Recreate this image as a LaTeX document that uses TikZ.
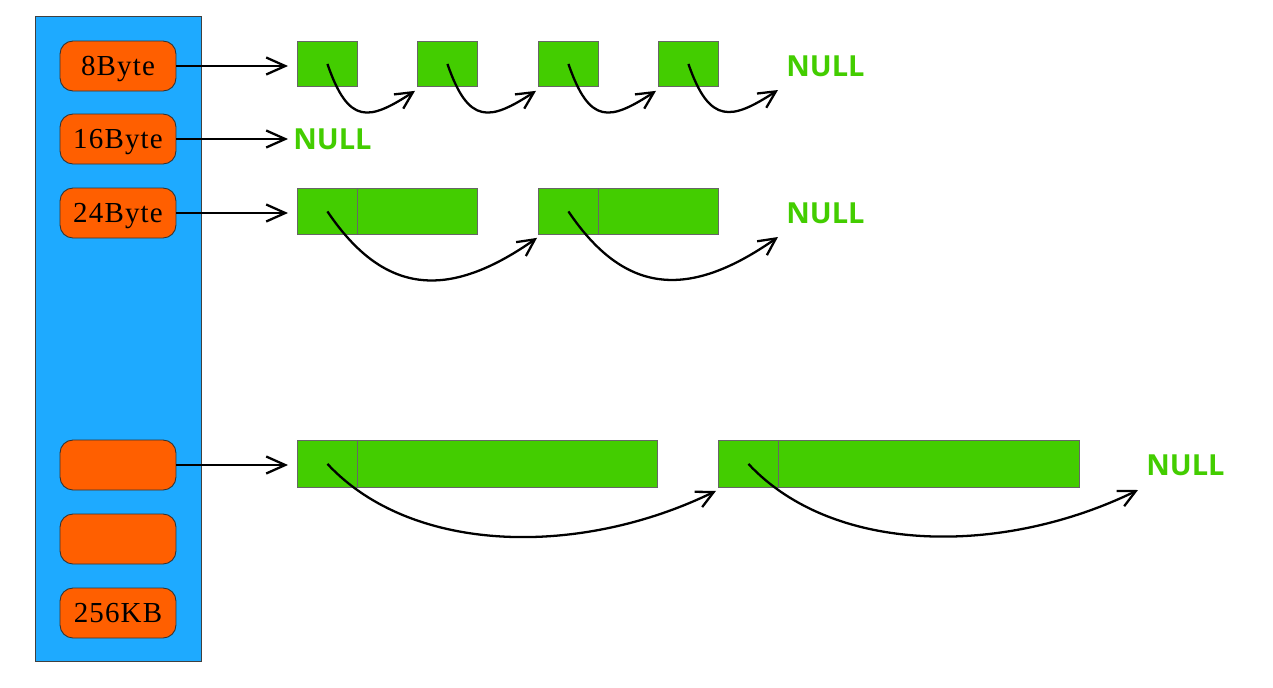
\documentclass[tikz,border=0pt]{standalone}
\usepackage{fontspec}
\setmainfont{Liberation Serif}
\newfontfamily\labfont{Liberation Serif}[LetterSpace=4]
\newfontfamily\nulltextfont{Open Sans}
\usetikzlibrary{arrows.meta}
\definecolor{blueT}{RGB}{30,170,255}
\definecolor{orangeT}{RGB}{255,95,0}
\definecolor{greenT}{RGB}{67,205,0}
\begin{document}
\begin{tikzpicture}[x=0.02cm,y=0.02cm,
  table/.style={draw=black!75, line width=0.5pt, fill=blueT, minimum width=3.32cm, minimum height=12.9cm, inner sep=0pt},
  slot/.style={draw=black!80, line width=0.5pt, fill=orangeT, rounded corners=0.26cm, minimum width=2.32cm, minimum height=1cm, inner sep=0pt, text depth=0pt, font=\labfont\fontsize{16.5}{16.5}\selectfont},
  cell/.style={draw=black!60, line width=0.5pt, fill=greenT, minimum height=0.92cm, inner sep=0pt, anchor=north west},
  nul/.style={text=greenT, font=\nulltextfont\bfseries\fontsize{16.5}{16.5}\selectfont, inner sep=0pt, anchor=west},
  arr/.style={line width=1.3pt, -{Straight Barb[length=0.38cm,width=0.34cm]}},
  carr/.style={line width=1.3pt, -{Straight Barb[length=0.34cm,width=0.34cm]}}
  ]
\path[fill=white] (0,0) rectangle (1273,-687);
\useasboundingbox (0,0) rectangle (1273,-687);

% table
\node[table] (tab) at (118,-338.5) {};
\node[slot] (o1) at (118,-66) {8Byte};
\node[slot] (o2) at (118,-139) {16Byte};
\node[slot] (o3) at (118,-213) {24Byte};
\node[slot] (o4) at (118,-465) {};
\node[slot] (o5) at (118,-539) {};
\node[slot] (o6) at (118,-613) {256KB};

% row 1
\node[cell, minimum width=1.2cm, minimum height=0.9cm] (a1) at (297,-41) {};
\node[cell, minimum width=1.2cm, minimum height=0.9cm] (a2) at (417,-41) {};
\node[cell, minimum width=1.2cm, minimum height=0.9cm] (a3) at (538,-41) {};
\node[cell, minimum width=1.2cm, minimum height=0.9cm] (a4) at (658,-41) {};
\node[nul] (n1) at (786,-66) {NULL};
\coordinate (e1) at (778,-90);

% row 2
\node[nul] (n2) at (293,-139) {NULL};

% row 3
\node[cell, minimum width=1.2cm] (b1) at (297,-188) {};
\node[cell, minimum width=2.4cm] (b1r) at (357,-188) {};
\node[cell, minimum width=1.2cm] (b2) at (538,-188) {};
\node[cell, minimum width=2.4cm] (b2r) at (598,-188) {};
\node[nul] (n3) at (786,-213) {NULL};
\coordinate (e3) at (778,-237);

% row 4
\node[cell, minimum width=1.2cm, minimum height=0.94cm] (c1) at (297,-440) {};
\node[cell, minimum width=6.0cm, minimum height=0.94cm] (c1r) at (357,-440) {};
\node[cell, minimum width=1.2cm, minimum height=0.94cm] (c2) at (718,-440) {};
\node[cell, minimum width=6.02cm, minimum height=0.94cm] (c2r) at (778,-440) {};
\node[nul] (n4) at (1146,-465) {NULL};
\coordinate (e4) at (1138,-490);

% straight arrows
\draw[arr, shorten >=0.18cm] (o1.east) -- (a1.west |- o1.east);
\draw[arr, shorten >=0.1cm] (o2.east) -- (n2.west);
\draw[arr, shorten >=0.18cm] (o3.east) -- (b1.west |- o3.east);
\draw[arr, shorten >=0.18cm] (o4.east) -- (c1.west |- o4.east);

% curved arrows row 1
\draw[carr] (a1.center) .. controls +(-71:65) and +(213:55) .. ([shift={(-2,-4)}]a2.south west);
\draw[carr] (a2.center) .. controls +(-71:65) and +(213:55) .. ([shift={(-2,-4)}]a3.south west);
\draw[carr] (a3.center) .. controls +(-71:65) and +(213:55) .. ([shift={(-2,-4)}]a4.south west);
\draw[carr] (a4.center) .. controls +(-71:65) and +(213:55) .. (e1);

% curved arrows row 3
\draw[carr] (b1.center) .. controls +(-56:100) and +(215:110) .. ([shift={(-1,-3)}]b2.south west);
\draw[carr] (b2.center) .. controls +(-56:100) and +(215:110) .. (e3);

% curved arrows row 4
\draw[carr] (c1.center) .. controls +(-47:125) and +(206:150) .. ([shift={(-2,-3)}]c2.south west);
\draw[carr] (c2.center) .. controls +(-47:125) and +(206:150) .. (e4);
\end{tikzpicture}
\end{document}
